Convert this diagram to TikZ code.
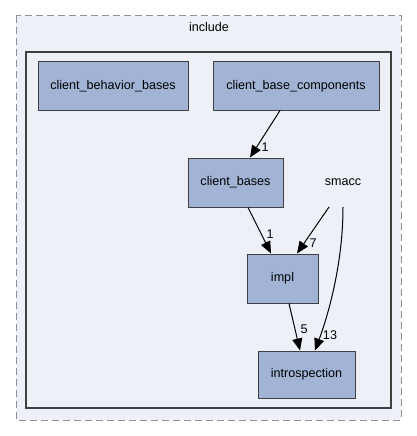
\documentclass[tikz,border=0pt]{standalone}
\usepackage{fontspec}
\setmainfont{Liberation Sans}
\usetikzlibrary{arrows.meta}
\definecolor{nodefill}{HTML}{A2B4D6}
\definecolor{nodeline}{HTML}{404040}
\definecolor{clusterfill}{HTML}{EDF0F7}
\definecolor{dashline}{HTML}{909090}
\begin{document}
\begin{tikzpicture}[x=1pt,y=-1pt,
  font=\fontsize{12.6}{14}\selectfont,
  dir/.style={draw=nodeline,fill=nodefill,line width=1pt,inner sep=0pt},
  dep/.style={-{Triangle[length=12pt,width=10pt]},line width=1pt,black},
  lbl/.style={font=\fontsize{12.6}{14}\selectfont,inner sep=0pt}]
\useasboundingbox (0,0) rectangle (417,436);
\fill[white] (0,0) rectangle (417,436);
\draw[dashline,fill=clusterfill,dash pattern=on 7pt off 4pt,line width=1pt] (16,16) rectangle (401,420);
\node[lbl] (inc) at (209,27) {include};
\draw[nodeline,fill=clusterfill,line width=2pt] (26,52) rectangle (391,408);
\node[dir,minimum width=150pt,minimum height=48pt] (cbb) at (113,86) {client\_behavior\_bases};
\node[dir,minimum width=166pt,minimum height=48pt] (cbc) at (296,86) {client\_base\_components};
\node[dir,minimum width=95pt,minimum height=49pt] (cb) at (235.5,182.5) {client\_bases};
\node[lbl,minimum width=40pt,minimum height=49pt] (sm) at (343,182.5) {smacc};
\node[dir,minimum width=71pt,minimum height=49pt] (impl) at (282.5,278.5) {impl};
\node[dir,minimum width=97pt,minimum height=47pt] (intro) at (306.5,374.5) {introspection};
\coordinate (s1) at (329,207);
\coordinate (s2) at (343,207);
\draw[dep] (cbc.south -| 280,0) -- (cb.north -| 250,0);
\node[lbl] at (265,147) {1};
\draw[dep] (cb.south -| 248,0) -- (impl.north -| 271,0);
\node[lbl] at (270,234) {1};
\draw[dep] (s1) -- (impl.north -| 297,0);
\node[lbl] at (313,243) {7};
\draw[dep] (s2) .. controls (343,260) and (330,310) .. (intro.north -| 315,0);
\node[lbl] at (330,335) {13};
\draw[dep] (impl.south -| 289,0) -- (intro.north -| 300,0);
\node[lbl] at (304,329) {5};
\end{tikzpicture}
\end{document}
